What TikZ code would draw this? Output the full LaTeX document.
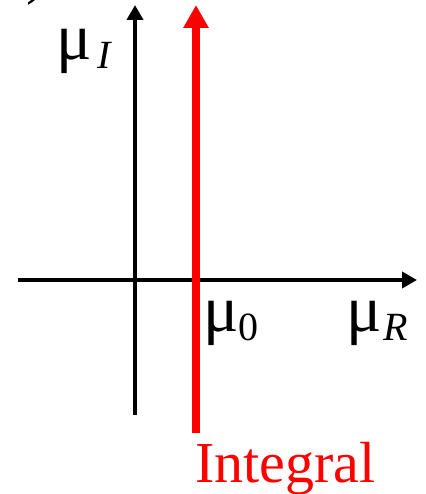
\documentclass[tikz,border=0pt]{standalone}
\usepackage{fontspec}
\setmainfont{Liberation Serif}
\usetikzlibrary{arrows.meta}

\tikzset{
  axis/.style={-{Triangle[length=15pt,width=16pt]}, line width=4pt, black},
  contour/.style={-{Triangle[length=23pt,width=24pt]}, line width=8pt, red},
  mulabel/.style={font=\fontsize{66}{70}\selectfont, inner sep=0pt, anchor=base west},
}
\newcommand{\sublabel}[1]{{\fontsize{40}{40}\selectfont\raisebox{-9pt}{#1}}}

\begin{document}
\begin{tikzpicture}[x=1pt,y=1pt]
    \useasboundingbox (0,0) rectangle (425,494);
    % Achsen
    \draw[axis] (18,214) -- (417,214);
    \draw[axis] (135,79) -- (135,489);
    % Integrationsweg
    \draw[contour] (196,61) -- (196,489);
    \node[text=red, font=\fontsize{58}{60}\selectfont, inner sep=0pt, anchor=base west]
        (intlabel) at (195,12) {Integral};

    \node[mulabel] (muI) at (56,434) {μ\hspace{6pt}\sublabel{\itshape I}};
    \node[mulabel] (mu0) at (203,162) {μ\sublabel{0}};
    \node[mulabel] (muR) at (346,162) {μ\hspace{2pt}\sublabel{\itshape R}};
    \node[font=\fontsize{60}{60}\selectfont, inner sep=0pt, anchor=base west] (paren) at (26,501) {)};
\end{tikzpicture}
\end{document}
